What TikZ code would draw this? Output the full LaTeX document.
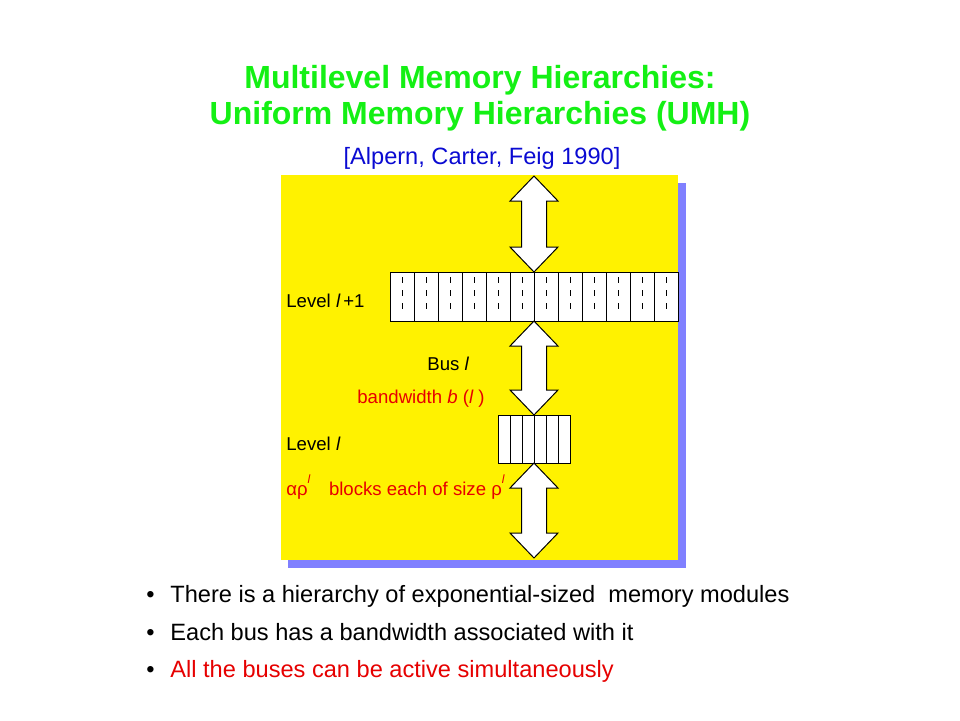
\documentclass[tikz,border=0pt]{standalone}
\usepackage{fontspec}
\setmainfont{Liberation Sans}
\usepackage{tikz}
\usepackage{xcolor}

\definecolor{titlegreen}{RGB}{20,240,20}
\definecolor{citeblue}{RGB}{10,10,210}
\definecolor{textred}{RGB}{230,0,0}
\definecolor{shadowblue}{RGB}{128,128,255}

\newcommand{\supl}{\raisebox{1.15ex}{\fontsize{6}{7}\selectfont\itshape l}}

\begin{document}
\begin{tikzpicture}[x=0.5pt,y=-0.5pt,
  title/.style={font=\bfseries\fontsize{16}{19}\selectfont, text=titlegreen},
  cite/.style={font=\fontsize{11.8}{14}\selectfont, text=citeblue},
  lbl/.style={font=\fontsize{9.3}{11}\selectfont, anchor=base west, inner sep=0pt},
  bullet/.style={font=\fontsize{11.8}{14}\selectfont, anchor=base west, inner sep=0pt},
  cell/.style={draw=black, fill=white, line width=0.5pt},
  bigarrow/.style={draw=black, fill=white, line width=0.5pt, line join=miter}]
\useasboundingbox (0,0) rectangle (960,720);

% title
\node[title] (t1) at (480,80) {Multilevel Memory Hierarchies:};
\node[title] (t2) at (480,116) {Uniform Memory Hierarchies (UMH)};
\node[cite] (ref) at (482,158) {[Alpern, Carter, Feig 1990]};

% panel with shadow
\fill[shadowblue] (288,183) rectangle (686,568);
\fill[yellow] (281,175) rectangle (678,560);

% level l+1
\draw[cell] (390,272) rectangle (678,321);
\foreach \i in {1,...,11}
  \draw[line width=0.5pt] (390+24*\i,272) -- (390+24*\i,321);
\foreach \i in {0,...,11}
  \draw[line width=0.5pt, dash pattern=on 3pt off 3.5pt] (402+24*\i,277) -- (402+24*\i,310);

% level l
\draw[cell] (498,415) rectangle (570,463);
\foreach \i in {1,...,5}
  \draw[line width=0.5pt] (498+12*\i,415) -- (498+12*\i,463);

% buses
\foreach \a/\b in {176/272, 321/415, 463/558}
  \draw[bigarrow] (534,\a) -- (558,\a+25) -- (546.5,\a+25) -- (546.5,\b-25)
    -- (558,\b-25) -- (534,\b) -- (510,\b-25) -- (521.5,\b-25)
    -- (521.5,\a+25) -- (510,\a+25) -- cycle;

% labels
\node[lbl] (lvlup) at (286,307) {Level {\itshape l}\,+1};
\node[lbl] (bus) at (427,370) {Bus {\itshape l}};
\node[lbl, text=textred] (bw) at (357,403) {bandwidth {\itshape b} ({\itshape l} )};
\node[lbl] (lvl) at (286,450) {Level {\itshape l}};
\node[lbl, text=textred] (blocks) at (286,495)
  {αρ\supl\hspace{1em}blocks each of size ρ\supl};

% bullets
\foreach \y/\c/\t [count=\n] in {
  602/black/There is a hierarchy of exponential-sized\ \ memory modules,
  640/black/Each bus has a bandwidth associated with it,
  677/textred/All the buses can be active simultaneously} {
  \node[bullet] (dot\n) at (146,\y) {•};
  \node[bullet, text=\c] (line\n) at (170,\y) {\t};
}
\end{tikzpicture}
\end{document}
